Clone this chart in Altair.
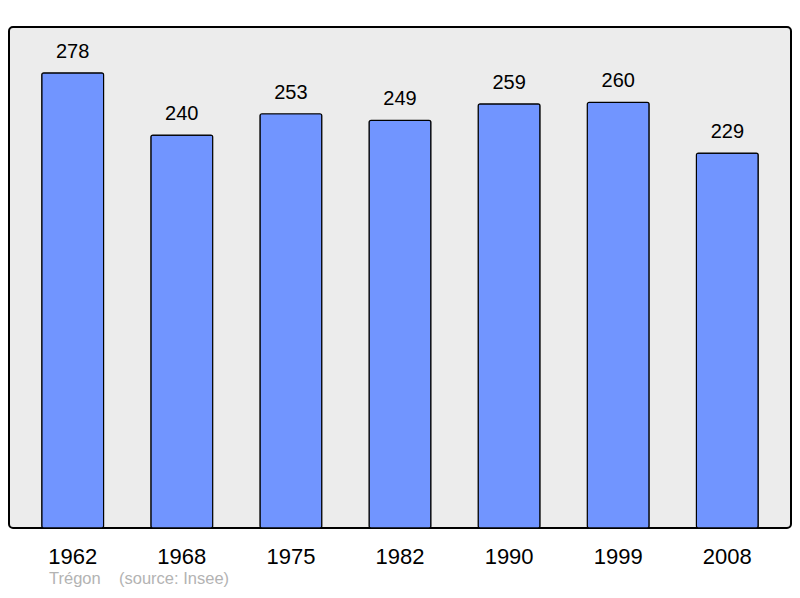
import altair as alt
import pandas as pd

years = ["1962", "1968", "1975", "1982", "1990", "1999", "2008"]
population = [278, 240, 253, 249, 259, 260, 229]

df = pd.DataFrame({"year": years, "pop": population})

x = alt.X("year:N", sort=years,
          scale=alt.Scale(paddingInner=0.433, paddingOuter=0.30),
          axis=alt.Axis(title=None, labelAngle=0, domain=False, ticks=False,
                        labelFontSize=22, labelColor="#000000",
                        labelFont="Liberation Sans", labelPadding=18))
y = alt.Y("pop:Q", scale=alt.Scale(domain=[0, 306], nice=False, zero=True), axis=None)

bars = alt.Chart(df).mark_bar(color="#7195ff", stroke="#000000", strokeWidth=1.2,
                              cornerRadius=2).encode(x=x, y=y)
labels = alt.Chart(df).mark_text(baseline="bottom", dy=-11, fontSize=20,
                                 font="Liberation Sans", color="#000000").encode(
    x=alt.X("year:N", sort=years), y="pop:Q", text="pop:Q")

chart = alt.layer(bars, labels).properties(
    width=782, height=501,
    title=alt.TitleParams("Trégon\u00a0\u00a0\u00a0\u00a0(source: Insee)", orient="bottom",
                          anchor="start", dx=40, offset=4, fontSize=16.5,
                          font="Liberation Sans", fontWeight="normal", color="#b3b3b3"),
    autosize=alt.AutoSizeParams(type="none"),
    padding={"left": 1, "top": 19, "right": 1, "bottom": 62},
).configure_view(
    fill="#ececec", stroke="#000000", strokeWidth=2, cornerRadius=4
)

chart.save("out.html", embed_options={"renderer": "svg", "actions": False})
